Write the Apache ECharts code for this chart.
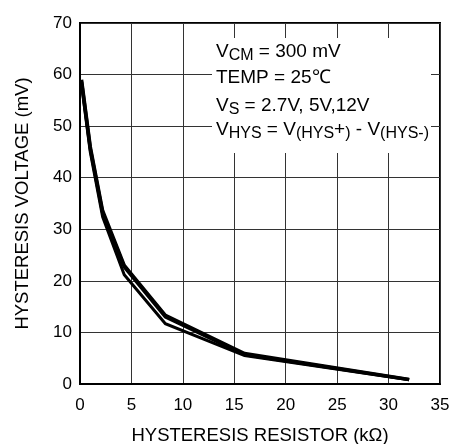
<!DOCTYPE html>
<html>
<head>
<meta charset="utf-8">
<script src="https://cdn.jsdelivr.net/npm/echarts@6/dist/echarts.min.js"></script>
<style>
  html, body { margin: 0; padding: 0; background: #fff; }
  #chart { width: 451px; height: 444px; }
</style>
</head>
<body>
<div id="chart"></div>
<script>
// hysteresis resistor (kOhm) and hysteresis voltage (mV), one array per supply
var resistorK = [0.15, 1.0, 2.2, 4.3, 8.3, 16.0, 32.0];
var vs12 = [59.0, 46.0, 33.6, 23.0, 13.3, 5.9, 0.9];
var vs5 = [58.6, 45.6, 33.2, 22.7, 13.0, 5.7, 0.85];
var vs27 = [58.0, 45.0, 32.4, 21.2, 11.7, 5.5, 0.8];
var xTicks = [0, 5, 10, 15, 20, 25, 30, 35];
var yTicks = [0, 10, 20, 30, 40, 50, 60, 70];

var font = "'Liberation Sans', Arial, sans-serif";

function pairs(ys) {
  var out = [];
  resistorK.forEach(function (x, i) {
    out.push([x, ys[i]]);
  });
  return out;
}

function curve(name, ys, w) {
  return {
    name: name,
    type: "line",
    data: pairs(ys),
    symbol: "none",
    animation: false,
    lineStyle: { color: "#000", width: w, join: "miter" }
  };
}

var myChart = echarts.init(document.getElementById("chart"));

//inset text with subscripts
var rich = {
  n: { fontSize: 19, lineHeight: 24, fontFamily: font },
  s: { fontSize: 16, verticalAlign: "bottom", fontFamily: font }
};
var notes = [
  { y: 40, text: "{n|V}{s|CM}{n| = 300 mV}" },
  { y: 66, text: "{n|TEMP = 25\u2103}" },
  { y: 94, text: "{n|V}{s|S}{n| = 2.7V, 5V,12V}" },
  { y: 118, text: "{n|V}{s|HYS}{n| = V}{s|(HYS}{n|+}{s|)}{n| - V}{s|(HYS-)}" }
];
var graphic = [
  {
    type: "rect",
    z: 10,
    shape: { x: 212, y: 38, width: 219, height: 115 },
    style: { fill: "#fff" }
  }
];
notes.forEach(function (t) {
  graphic.push({
    type: "text",
    z: 11,
    x: 216,
    y: t.y,
    style: { text: t.text, rich: rich, fill: "#000", align: "left", verticalAlign: "top" }
  });
});

var option = {
  backgroundColor: "#fff",
  animation: false,
  grid: {
    left: 80,
    top: 23,
    width: 360,
    height: 361,
    containLabel: false,
    outerBoundsMode: "none",
    show: true,
    borderColor: "#000",
    borderWidth: 2
  },
  xAxis: {
    type: "value",
    min: xTicks[0],
    max: xTicks[xTicks.length - 1],
    interval: xTicks[1] - xTicks[0],
    name: "HYSTERESIS RESISTOR (k\u03A9)",
    nameLocation: "middle",
    nameGap: 42,
    nameTextStyle: { color: "#000", fontSize: 18.5, fontFamily: font },
    axisLine: { lineStyle: { color: "#000", width: 2 } },
    axisTick: { show: false },
    axisLabel: { color: "#000", fontSize: 17, fontFamily: font, margin: 13 },
    splitLine: { show: true, lineStyle: { color: "#333", width: 1 } }
  },
  yAxis: {
    type: "value",
    min: yTicks[0],
    max: yTicks[yTicks.length - 1],
    interval: yTicks[1] - yTicks[0],
    name: "HYSTERESIS VOLTAGE (mV)",
    nameLocation: "middle",
    nameRotate: 90,
    nameGap: 48,
    nameTextStyle: { color: "#000", fontSize: 18.5, fontFamily: font },
    axisLine: { lineStyle: { color: "#000", width: 2 } },
    axisTick: { show: false },
    axisLabel: { color: "#000", fontSize: 17, fontFamily: font, margin: 8 },
    splitLine: { show: true, lineStyle: { color: "#333", width: 1 } }
  },
  graphic: graphic,
  series: [
    curve("VS = 2.7V", vs27, 3),
    curve("VS = 5V", vs5, 3.5),
    curve("VS = 12V", vs12, 3.5)
  ]
};
myChart.setOption(option);
</script>
</body>
</html>
